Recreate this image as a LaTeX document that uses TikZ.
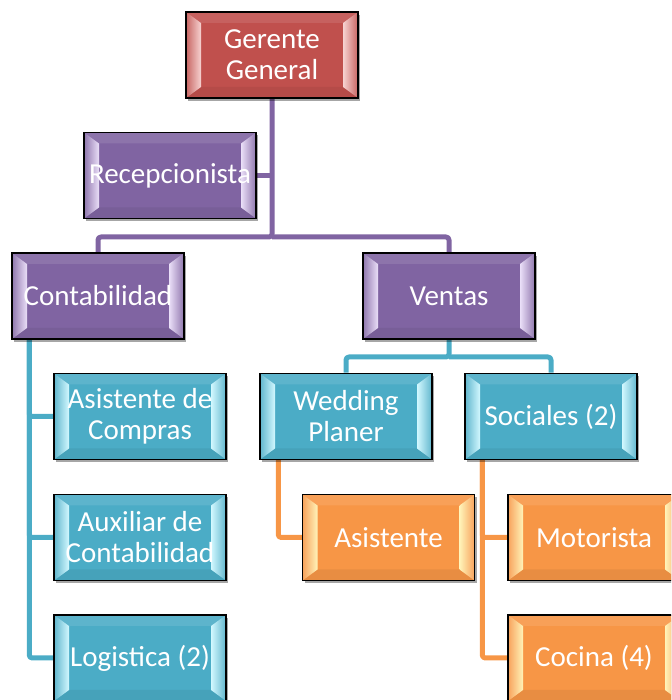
\documentclass[tikz,border=0pt]{standalone}
\usepackage{fontspec}
\setmainfont{Carlito}
\usetikzlibrary{calc,shadows,backgrounds}

\definecolor{redbox}{HTML}{C0504D}
\definecolor{redhi}{HTML}{F6D2D1}
\definecolor{purplebox}{HTML}{8064A2}
\definecolor{purplehi}{HTML}{EADFF8}
\definecolor{tealbox}{HTML}{4BACC6}
\definecolor{tealhi}{HTML}{D2F8FF}
\definecolor{orangebox}{HTML}{F79646}
\definecolor{orangehi}{HTML}{FFF3B8}

\tikzset{
  x=1pt, y=1pt,
  % beveled org-chart box: #1 base colour, #2 bevel highlight
  orgbox/.style 2 args={
    draw=black, line width=1.5pt, fill=#1,
    minimum width=172pt, minimum height=86pt, inner sep=0pt,
    align=center, text=white,
    font=\fontsize{29}{31}\selectfont,
    drop shadow={shadow xshift=2pt, shadow yshift=-3pt, opacity=.35, fill=black},
    path picture={
      \path (path picture bounding box.north west) coordinate (bNW)
            (path picture bounding box.north east) coordinate (bNE)
            (path picture bounding box.south west) coordinate (bSW)
            (path picture bounding box.south east) coordinate (bSE);
      \fill[#1!90!white] (bNW) -- (bNE) -- ($(bNE)+(-15,-11)$) -- ($(bNW)+(15,-11)$) -- cycle;
      \fill[#1!94!black] (bSW) -- (bSE) -- ($(bSE)+(-15,11)$) -- ($(bSW)+(15,11)$) -- cycle;
      \shade[left color=#1!88!white, right color=#2]
        (bNW) -- ($(bNW)+(15,-11)$) -- ($(bSW)+(15,11)$) -- (bSW) -- cycle;
      \shade[left color=#2, right color=#1!88!white]
        (bNE) -- ($(bNE)+(-15,-11)$) -- ($(bSE)+(-15,11)$) -- (bSE) -- cycle;
    }
  },
  redstep/.style={orgbox={redbox}{redhi}},
  purplestep/.style={orgbox={purplebox}{purplehi}},
  tealstep/.style={orgbox={tealbox}{tealhi}},
  orangestep/.style={orgbox={orangebox}{orangehi}},
  link/.style={line width=5pt, rounded corners=3pt, line join=round},
  plink/.style={link, draw=purplebox},
  tlink/.style={link, draw=tealbox},
  olink/.style={link, draw=orangebox}
}

\begin{document}
\begin{tikzpicture}
\path[use as bounding box] (0,0) rectangle (671,700);
\clip (0,0) rectangle (671,700);

% boxes
\node[redstep]    (ger)  at (272,645)   {Gerente\\General};
\node[purplestep] (rec)  at (170,524.5) {Recepcionista};
\node[purplestep] (cont) at (98,404)    {Contabilidad};
\node[purplestep] (vent) at (449,404)   {Ventas};
\node[tealstep]   (wed)  at (346,283.5) {Wedding\\Planer};
\node[tealstep]   (soc)  at (551,283.5) {Sociales (2)};
\node[tealstep]   (asc)  at (140,283.5) {Asistente de\\Compras};
\node[tealstep]   (aux)  at (140,162.5) {Auxiliar de\\Contabilidad};
\node[tealstep]   (log)  at (140,42)    {Logistica (2)};
\node[orangestep] (asis) at (388.5,162.5) {Asistente};
\node[orangestep] (mot)  at (594,162.5) {Motorista};
\node[orangestep] (coc)  at (594,42)    {Cocina (4)};

% connectors, behind the boxes
\begin{scope}[on background layer]
  \coordinate (j1) at (272,463);
  \coordinate (j2) at (449,343);
  \coordinate (ct) at ($(cont.south west)+(18,0)$);
  \coordinate (wt) at ($(wed.south west)+(19,0)$);
  \coordinate (st) at ($(soc.south west)+(18,0)$);

  \draw[plink] (ger.south) -- (j1) -| (cont.north);
  \draw[plink] (j1) -| (vent.north);
  \draw[plink] (rec.east) -- (rec.east -| j1);

  \draw[tlink] (vent.south) -- (j2) -| (wed.north);
  \draw[tlink] (j2) -| (soc.north);

  \draw[tlink] (ct) |- (asc.west);
  \draw[tlink] (ct) |- (aux.west);
  \draw[tlink] (ct) |- (log.west);

  \draw[olink] (wt) |- (asis.west);
  \draw[olink] (st) |- (mot.west);
  \draw[olink] (st) |- (coc.west);
\end{scope}
\end{tikzpicture}
\end{document}
